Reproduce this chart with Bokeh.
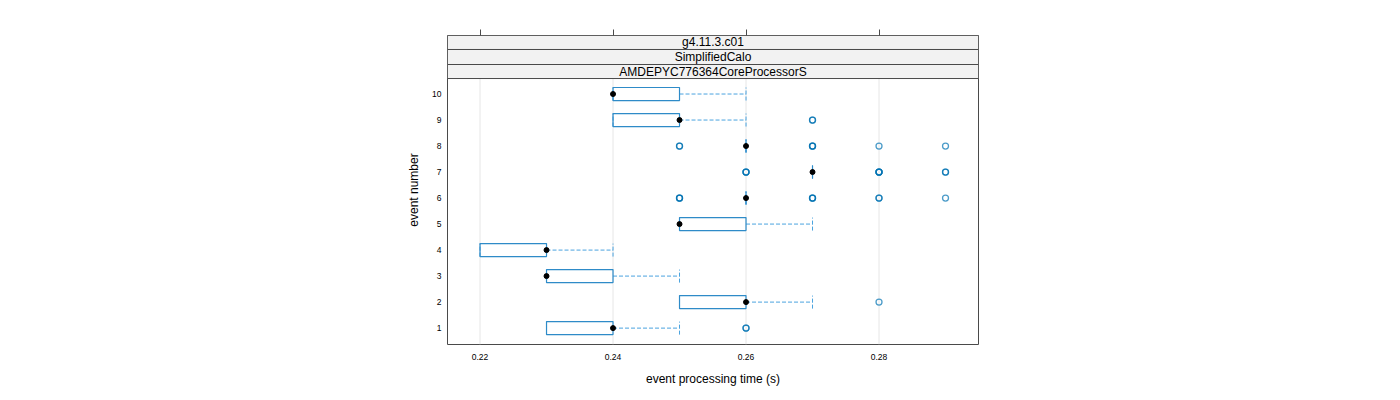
from bokeh.plotting import figure
from bokeh.models import ColumnDataSource, FixedTicker, LinearAxis, Range1d
from bokeh.embed import file_html
from bokeh.resources import INLINE
from bokeh.core.properties import value

# ---- data ----
events = [1, 2, 3, 4, 5, 6, 7, 8, 9, 10]
q1 =     [0.23, 0.25, 0.23, 0.22, 0.25, 0.26, 0.27, 0.26, 0.24, 0.24]
median = [0.24, 0.26, 0.23, 0.23, 0.25, 0.26, 0.27, 0.26, 0.25, 0.24]
q3 =     [0.24, 0.26, 0.24, 0.23, 0.26, 0.26, 0.27, 0.26, 0.25, 0.25]
lo_whisker = [0.23, 0.25, 0.23, 0.22, 0.25, 0.26, 0.27, 0.26, 0.24, 0.24]
hi_whisker = [0.25, 0.27, 0.25, 0.24, 0.27, 0.26, 0.27, 0.26, 0.26, 0.26]
# outliers (repeated values mark overlapping points)
out_event = [1, 1, 2,
             6, 6, 6, 6, 6, 6, 6, 6, 6,
             7, 7, 7, 7, 7, 7, 7, 7, 7,
             8, 8, 8, 8, 8, 8, 8,
             9, 9]
out_value = [0.26, 0.26, 0.28,
             0.25, 0.25, 0.25, 0.27, 0.27, 0.27, 0.28, 0.28, 0.29,
             0.26, 0.26, 0.26, 0.28, 0.28, 0.28, 0.28, 0.29, 0.29,
             0.25, 0.25, 0.27, 0.27, 0.27, 0.28, 0.29,
             0.27, 0.27]
x_ticks = [0.22, 0.24, 0.26, 0.28]
strip_labels = ["g4.11.3.c01", "SimplifiedCalo", "AMDEPYC776364CoreProcessorS"]
x_label = "event processing time (s)"
y_label = "event number"

FONT = "Liberation Sans"
BOX = "#2e8bc8"
WHISK = "#4aa3df"
OUT = "#0072b2"
BORDER = "#4a4a4a"

x0, x1 = 0.21511, 0.29496
y0, y1 = 0.37, 12.25
panel_top = 10.596
strip_edges = [panel_top, 11.135, 11.712, y1]
half = 0.25

p = figure(width=1380, height=390, output_backend="svg", toolbar_location=None,
           x_range=Range1d(x0, x1), y_range=Range1d(y0, y1),
           min_border_left=447, min_border_right=402,
           min_border_top=35, min_border_bottom=46)
p.outline_line_color = BORDER
p.outline_line_width = 1
p.xgrid.visible = False
p.ygrid.visible = False
p.background_fill_color = "white"

# grid lines inside the panel only
p.segment(x0=x_ticks, x1=x_ticks, y0=[y0] * len(x_ticks), y1=[panel_top] * len(x_ticks),
          line_color="#e6e6e6", line_width=1)

# strips
n = len(strip_labels)
bottoms = [strip_edges[n - 1 - i] for i in range(n)]
tops = [strip_edges[n - i] for i in range(n)]
p.quad(left=[x0] * n, right=[x1] * n, bottom=bottoms, top=tops,
       fill_color="#f2f2f2", line_color=BORDER, line_width=1)
p.text(x=[(x0 + x1) / 2] * n, y=[(b + t) / 2 for b, t in zip(bottoms, tops)],
       text=strip_labels, text_align="center", text_baseline="middle",
       text_font=value(FONT), text_font_size="12px", text_color="#000000")

src = ColumnDataSource(dict(
    y=events, q1=q1, med=median, q3=q3, lo=lo_whisker, hi=hi_whisker,
    yb=[e - half for e in events], yt=[e + half for e in events]))

# whiskers
p.segment(x0="q3", x1="hi", y0="y", y1="y", source=src,
          line_color=WHISK, line_width=1, line_dash="4 2")
p.segment(x0="lo", x1="q1", y0="y", y1="y", source=src,
          line_color=WHISK, line_width=1, line_dash="4 2")
p.segment(x0="hi", x1="hi", y0="yb", y1="yt", source=src,
          line_color=WHISK, line_width=1, line_dash="4 2")
p.segment(x0="lo", x1="lo", y0="yb", y1="yt", source=src,
          line_color=WHISK, line_width=1, line_dash="4 2")
# boxes
p.quad(left="q1", right="q3", bottom="yb", top="yt", source=src,
       fill_color=None, line_color=BOX, line_width=1.2)
# outliers
p.scatter(x=out_value, y=out_event, marker="circle", size=6, fill_color=None,
          line_color=OUT, line_width=1.3, line_alpha=0.7)
# medians
p.scatter(x="med", y="y", source=src, marker="circle", size=5,
          fill_color="black", line_color="black")

# bottom axis
xa = p.xaxis[0]
xa.ticker = FixedTicker(ticks=x_ticks)
xa.axis_line_color = None
xa.major_tick_out = 0
xa.major_tick_in = 0
xa.minor_tick_out = 0
xa.minor_tick_in = 0
xa.major_label_standoff = 9
xa.major_label_text_font = FONT
xa.major_label_text_font_size = "8.5px"
xa.major_label_text_color = "#000000"
xa.axis_label = x_label
xa.axis_label_text_font = FONT
xa.axis_label_text_font_size = "12px"
xa.axis_label_text_font_style = "normal"
xa.axis_label_text_color = "#000000"
xa.axis_label_standoff = 9

# left axis
ya = p.yaxis[0]
ya.ticker = FixedTicker(ticks=events)
ya.axis_line_color = None
ya.major_tick_out = 0
ya.major_tick_in = 0
ya.minor_tick_out = 0
ya.minor_tick_in = 0
ya.major_label_standoff = 6
ya.major_label_text_font = FONT
ya.major_label_text_font_size = "8.5px"
ya.major_label_text_color = "#000000"
ya.axis_label = y_label
ya.axis_label_text_font = FONT
ya.axis_label_text_font_size = "12px"
ya.axis_label_text_font_style = "normal"
ya.axis_label_text_color = "#000000"
ya.axis_label_standoff = 8

# top axis: ticks only
top = LinearAxis(ticker=FixedTicker(ticks=x_ticks))
top.axis_line_color = None
top.major_tick_out = 6
top.major_tick_in = 0
top.minor_tick_out = 0
top.minor_tick_in = 0
top.major_tick_line_color = BORDER
top.major_label_overrides = {t: "" for t in x_ticks}
top.major_label_standoff = 0
p.add_layout(top, "above")

open("out.html", "w").write(file_html(p, INLINE))
